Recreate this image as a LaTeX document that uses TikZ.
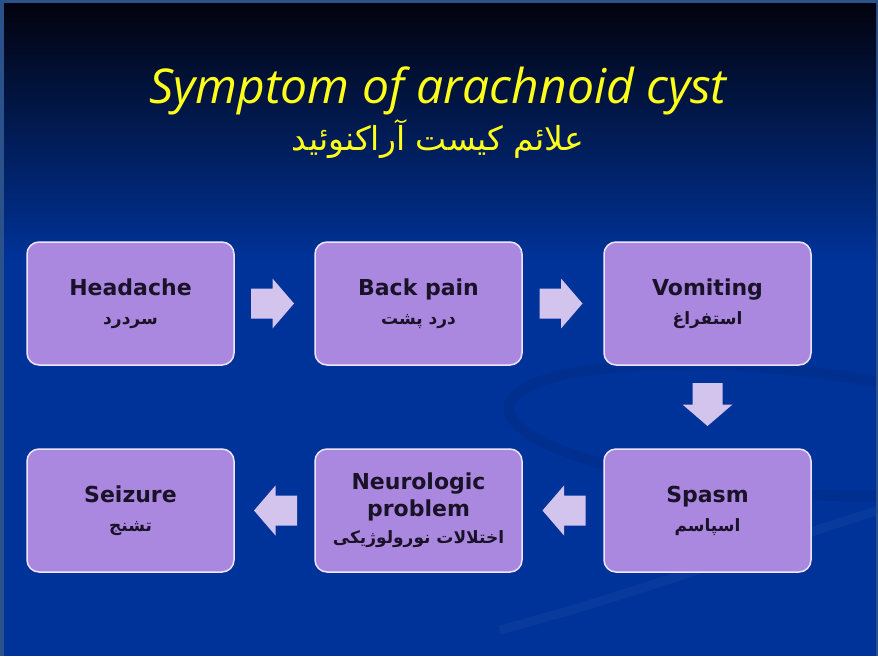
\documentclass[tikz,border=0pt]{standalone}
\usepackage{fontspec}
\setmainfont{DejaVu Sans}
\newfontfamily\titlefont{Open Sans}
\newfontfamily\fafont[Script=Arabic]{DejaVu Sans}
\TeXXeTstate=1
\usetikzlibrary{calc}
\definecolor{framecol}{HTML}{2A5189}
\definecolor{bgtop}{HTML}{02030E}
\definecolor{bgmid}{HTML}{04205E}
\definecolor{bgbot}{HTML}{003399}
\definecolor{boxfill}{HTML}{AB88DF}
\definecolor{boxline}{HTML}{EDE6FA}
\definecolor{arrowfill}{HTML}{D3C4EE}
\definecolor{txt}{HTML}{1A1228}
\definecolor{ttl}{HTML}{FFFF1A}
\definecolor{swdark}{HTML}{00287A}
\newcommand{\fatext}[1]{{\fafont\fontsize{17}{20}\selectfont\bfseries\beginR #1\endR}}
\begin{document}
\begin{tikzpicture}[x=1pt,y=-1pt,
  stepbox/.style={rectangle, rounded corners=12pt, fill=boxfill, draw=boxline,
    line width=1.5pt, minimum width=207pt, minimum height=123pt, inner sep=0pt,
    align=center, text=txt, font=\fontsize{22}{27}\selectfont\bfseries},
  blockarrow/.pic={\fill[arrowfill] (-21.5,-15) -- (0,-15) -- (0,-25) -- (21.5,0) -- (0,25) -- (0,15) -- (-21.5,15) -- cycle;}]
\useasboundingbox (0,0) rectangle (878,656);
\fill[framecol] (0,0) rectangle (878,656);
\shade[top color=bgtop, middle color=bgmid, bottom color=bgbot] (4,3) rectangle (876,262);
\fill[bgbot] (4,261) rectangle (876,656);
% swoosh
\begin{scope}
\clip (4,3) rectangle (876,656);
\draw[swdark, line width=11pt, opacity=0.3] (770,430) ellipse [x radius=262, y radius=62, rotate=-5];
\draw[white, line width=9pt, opacity=0.03] (500,630) .. controls (650,590) and (780,540) .. (880,510);
\end{scope}
% title
\node[text=ttl, font=\titlefont\itshape\fontsize{48}{52}\selectfont, anchor=base] (title) at (438,103) {Symptom of arachnoid cyst};
\node[text=ttl, font=\fafont\fontsize{33}{38}\selectfont, anchor=base] (subtitle) at (438,150) {\beginR علائم کیست آراکنوئید\endR};
% boxes
\node[stepbox] (head)  at (130.5,303.5) {Headache\\[2pt]\fatext{سردرد}};
\node[stepbox] (back)  at (418.5,303.5) {Back pain\\[2pt]\fatext{درد پشت}};
\node[stepbox] (vomit) at (707.5,303.5) {Vomiting\\[2pt]\fatext{استفراغ}};
\node[stepbox] (spasm) at (707.5,510.5) {Spasm\\[2pt]\fatext{اسپاسم}};
\node[stepbox] (neuro) at (418.5,510.5) {Neurologic\\problem\\[0pt]\fatext{اختلالات نورولوژیکی}};
\node[stepbox] (seiz)  at (130.5,510.5) {Seizure\\[2pt]\fatext{تشنج}};
% arrows
\pic at ($(head.east)!0.5!(back.west)+(-2,0)$) {blockarrow};
\pic at ($(back.east)!0.5!(vomit.west)+(-2,0)$) {blockarrow};
\pic[rotate=-90] at ($(vomit.south)!0.5!(spasm.north)+(0,-2.5)$) {blockarrow};
\pic[rotate=180] at ($(spasm.west)!0.5!(neuro.east)+(1,0)$) {blockarrow};
\pic[rotate=180] at ($(neuro.west)!0.5!(seiz.east)+(1,0)$) {blockarrow};
\end{tikzpicture}
\end{document}
